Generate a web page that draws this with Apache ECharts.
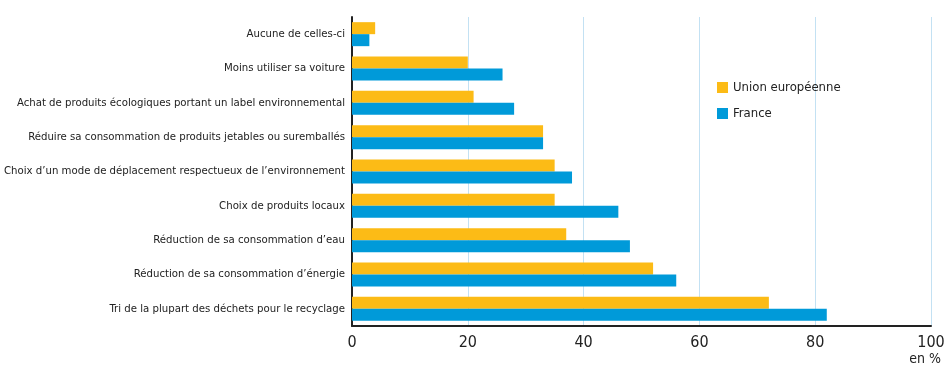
<!DOCTYPE html>
<html>
<head>
<meta charset="utf-8">
<script src="https://cdn.jsdelivr.net/npm/echarts@6/dist/echarts.min.js"></script>
<style>
html, body { margin: 0; padding: 0; background: #fff; }
#main { width: 944px; height: 370px; }
</style>
</head>
<body>
<div id="main"></div>
<script>
// categories, top to bottom as in the picture
var categories = [
	'Aucune de celles-ci',
	'Moins utiliser sa voiture',
	'Achat de produits écologiques portant un label environnemental',
	'Réduire sa consommation de produits jetables ou suremballés',
	'Choix d\u2019un mode de déplacement respectueux de l\u2019environnement',
	'Choix de produits locaux',
	'Réduction de sa consommation d\u2019eau',
	'Réduction de sa consommation d\u2019énergie',
	'Tri de la plupart des déchets pour le recyclage'
];
var ueValues = [4, 20, 21, 33, 35, 35, 37, 52, 72];
var franceValues = [3, 26, 28, 33, 38, 46, 48, 56, 82];
var xTicks = [0, 20, 40, 60, 80, 100];

var font = '"DejaVu Sans Condensed", "Liberation Sans", sans-serif';

var myChart = echarts.init(document.getElementById('main'));
var option = {
	animation: false,
	textStyle: { fontFamily: font },
	legend: {
		orient: 'vertical',
		left: 712,
		top: 76,
		itemWidth: 11,
		itemHeight: 11,
		itemGap: 13,
		itemTextGap: 5,
		icon: 'rect',
		textStyle: { fontFamily: font, fontSize: 13, color: '#222' },
		data: ['Union européenne', 'France']
	},
	grid: {
		left: 352,
		right: 13,
		top: 17,
		bottom: 44,
		containLabel: false,
		outerBoundsMode: 'none'
	},
	xAxis: {
		type: 'value',
		min: xTicks[0],
		max: xTicks[xTicks.length - 1],
		interval: 20,
		axisLine: { show: true, lineStyle: { color: '#222', width: 2 } },
		axisTick: { show: false },
		axisLabel: { fontFamily: font, fontSize: 16, color: '#222', margin: 9 },
		splitLine: { show: true, lineStyle: { color: '#c3e1f3', width: 1 } }
	},
	yAxis: {
		type: 'category',
		inverse: true,
		data: categories,
		axisLine: { show: true, lineStyle: { color: '#222', width: 2 } },
		axisTick: { show: false },
		axisLabel: { fontFamily: font, fontSize: 11.3, color: '#222', margin: 7 }
	},
	graphic: [{
		type: 'text',
		right: 3,
		top: 352,
		style: { text: 'en %', font: '14px ' + font, fill: '#222' }
	}],
	series: [{
		name: 'Union européenne',
		type: 'bar',
		data: ueValues,
		barWidth: 12,
		barGap: '0%',
		itemStyle: { color: '#fcbb16' }
	}, {
		name: 'France',
		type: 'bar',
		data: franceValues,
		barWidth: 12,
		barGap: '0%',
		itemStyle: { color: '#009ad9' }
	}]
};
myChart.setOption(option);
</script>
</body>
</html>
